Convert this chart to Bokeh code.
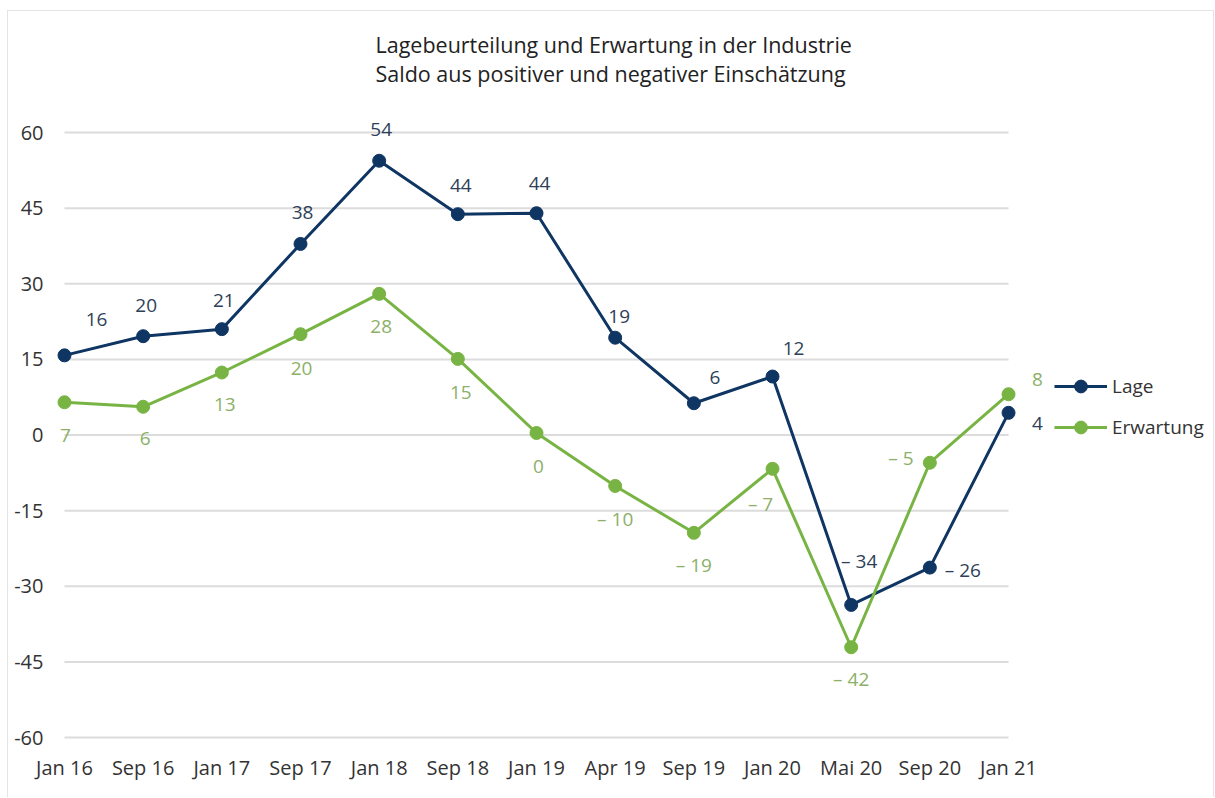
from bokeh.plotting import figure
from bokeh.models import ColumnDataSource, FixedTicker, Range1d, Legend, LegendItem, Title
from bokeh.embed import file_html
from bokeh.resources import INLINE
from bokeh.core.properties import value

categories = ["Jan 16", "Sep 16", "Jan 17", "Sep 17", "Jan 18", "Sep 18", "Jan 19",
              "Apr 19", "Sep 19", "Jan 20", "Mai 20", "Sep 20", "Jan 21"]
lage = [15.8, 19.6, 21.0, 37.9, 54.4, 43.8, 44.0, 19.3, 6.3, 11.6, -33.7, -26.3, 4.4]
lage_labels = ["16", "20", "21", "38", "54", "44", "44", "19", "6", "12", "– 34", "– 26", "4"]
erwartung = [6.5, 5.6, 12.4, 20.0, 28.0, 15.1, 0.4, -10.1, -19.4, -6.7, -42.1, -5.5, 8.1]
erwartung_labels = ["7", "6", "13", "20", "28", "15", "0", "– 10", "– 19", "– 7", "– 42", "– 5", "8"]
y_ticks = [-60, -45, -30, -15, 0, 15, 30, 45, 60]
y_tick_labels = ["-60", "-45", "-30", "-15", "0", "15", "30", "45", "60"]
title_lines = ["Lagebeurteilung und Erwartung in der Industrie",
               "Saldo aus positiver und negativer Einschätzung"]

# label offsets in screen pixels (style, not data)
lage_dx = [32, 3, 2, 2, 2, 3, 3, 4, 21, 21, 8, 33, 29]
lage_dy = [-36, -31, -29, -31, -31, -29, -30, -21, -26, -28, -44, 2, 11]
erw_dx = [1, 2, 3, 1, 2, 3, 2, 0, 0, -12, 0, -29, 29]
erw_dy = [33, 32, 32, 34, 33, 34, 34, 33, 32, 35, 32, -5, -15]

FONT = "Open Sans"
NAVY = "#0f3563"
GREEN = "#78b443"
NAVY_TXT = "#2e3f58"
GREEN_TXT = "#8cb068"
BORDER = "1px solid #e4e4e4"

xs = list(range(len(categories)))

p = figure(width=1207, height=787, output_backend="svg", toolbar_location=None,
           x_range=Range1d(-0.1017, 14.58), y_range=Range1d(-62.18, 66.35),
           min_border_left=48, min_border_right=4, min_border_top=89, min_border_bottom=50)
p.styles = {"margin-left": "7px", "margin-top": "10px",
            "border-left": BORDER, "border-top": BORDER, "border-right": BORDER}
p.background_fill_color = "white"
p.border_fill_color = "white"
p.outline_line_color = None
p.xgrid.visible = False
p.ygrid.visible = False

# gridlines across the category span
p.segment(x0=[xs[0]] * len(y_ticks), x1=[xs[-1]] * len(y_ticks), y0=y_ticks, y1=y_ticks,
          line_color="#dcdcdc", line_width=2)

src_l = ColumnDataSource(dict(x=xs, y=lage, t=lage_labels, dx=lage_dx, dy=lage_dy))
src_e = ColumnDataSource(dict(x=xs, y=erwartung, t=erwartung_labels, dx=erw_dx, dy=erw_dy))

l_line = p.line("x", "y", source=src_l, line_color=NAVY, line_width=3)
l_pts = p.scatter("x", "y", source=src_l, size=13, fill_color=NAVY, line_color=NAVY)
e_line = p.line("x", "y", source=src_e, line_color=GREEN, line_width=3)
e_pts = p.scatter("x", "y", source=src_e, size=13, fill_color=GREEN, line_color=GREEN)

p.text("x", "y", text="t", source=src_l, x_offset="dx", y_offset="dy",
       text_align="center", text_baseline="middle", text_font=value(FONT),
       text_font_size="19px", text_color=NAVY_TXT)
p.text("x", "y", text="t", source=src_e, x_offset="dx", y_offset="dy",
       text_align="center", text_baseline="middle", text_font=value(FONT),
       text_font_size="19px", text_color=GREEN_TXT)

# axes
p.xaxis.ticker = FixedTicker(ticks=xs)
p.xaxis.major_label_overrides = {i: c for i, c in zip(xs, categories)}
p.yaxis.ticker = FixedTicker(ticks=y_ticks)
p.yaxis.major_label_overrides = {t: s for t, s in zip(y_ticks, y_tick_labels)}
for ax in (p.xaxis[0], p.yaxis[0]):
    ax.axis_line_color = None
    ax.major_tick_line_color = None
    ax.minor_tick_line_color = None
    ax.major_tick_out = 0
    ax.major_tick_in = 0
    ax.minor_tick_out = 0
    ax.minor_tick_in = 0
    ax.major_label_text_font = FONT
    ax.major_label_text_font_size = "20px"
    ax.major_label_text_color = "#333333"
p.xaxis.major_label_standoff = 5
p.yaxis.major_label_standoff = 13

legend = Legend(items=[LegendItem(label="Lage", renderers=[l_line, l_pts]),
                       LegendItem(label="Erwartung", renderers=[e_line, e_pts])],
                location=(998, 305), orientation="vertical")
legend.border_line_color = None
legend.background_fill_alpha = 0
legend.padding = 0
legend.margin = 0
legend.spacing = 9
legend.glyph_width = 53
legend.glyph_height = 32
legend.label_height = 32
legend.label_standoff = 5
legend.label_text_font = FONT
legend.label_text_font_size = "19px"
legend.label_text_color = "#333333"
legend.label_text_baseline = "middle"
p.add_layout(legend)

# two-line title
p.add_layout(Title(text="\n".join(title_lines), align="left", offset=319, standoff=24,
                   text_font=FONT, text_font_size="21.5px", text_font_style="normal",
                   text_line_height=1.03, text_color="#222222"), "above")

open("out.html", "w").write(file_html(p, INLINE))
